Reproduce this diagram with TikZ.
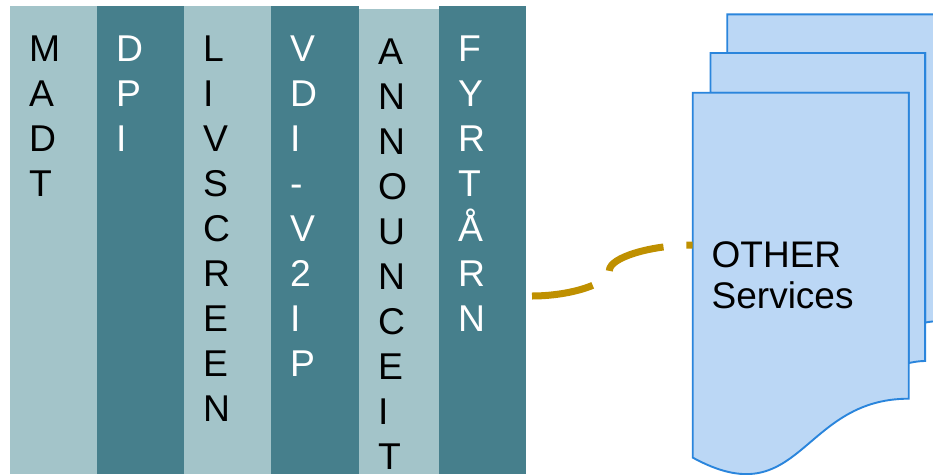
\documentclass[tikz,border=0pt]{standalone}
\usepackage{fontspec}
\setmainfont{Liberation Sans}
\definecolor{colLight}{HTML}{A3C4C9}
\definecolor{colDark}{HTML}{467F8C}
\definecolor{docFill}{HTML}{BBD7F5}
\definecolor{docLine}{HTML}{2A85DC}
\definecolor{linkGold}{HTML}{BF9000}
\begin{document}
\begin{tikzpicture}[x=1pt,y=-1pt,
  lightcol/.style={fill=colLight},
  darkcol/.style={fill=colDark},
  lettersBlack/.style={anchor=base west,inner sep=0pt,align=left,text=black,
    font=\fontsize{37.3}{45}\selectfont},
  lettersWhite/.style={lettersBlack,text=white},
  docshape/.style={fill=docFill,draw=docLine,line width=1.9pt,line join=miter},
  doctext/.style={anchor=base west,inner sep=0pt,align=left,text=black,
    font=\fontsize{37}{41}\selectfont},
  goldlink/.style={draw=linkGold,line width=7pt,dash pattern=on 62pt off 23pt}
]
\useasboundingbox (0,0) rectangle (933,474);
\fill[white] (0,0) rectangle (933,474);
% columns
\path[lightcol] (10,6) rectangle (97,474);
\path[darkcol]  (97,6) rectangle (184,474);
\path[lightcol] (184,6) rectangle (271,474);
\path[darkcol]  (271,6) rectangle (359,474);
\path[lightcol] (359,9) rectangle (439,474);
\path[darkcol]  (439,6) rectangle (526,474);
% column texts (base anchor = baseline of the last line)
\node[lettersBlack] (madt) at (29,196) {M\\A\\D\\T};
\node[lettersWhite] (dpi) at (116,151) {D\\P\\I};
\node[lettersBlack] (livscreen) at (203,421) {L\\I\\V\\S\\C\\R\\E\\E\\N};
\node[lettersWhite] (vdi) at (290,376) {V\\D\\I\\-\\V\\2\\I\\P};
\node[lettersBlack] (announceit) at (378,469.5) {A\\N\\N\\O\\U\\N\\C\\E\\I\\T};
\node[lettersWhite] (fyrtarn) at (458,331) {F\\Y\\R\\T\\Å\\R\\N};
% documents (back to front)
\path[docshape] (727.2,53) -- (727.2,14.3) -- (941.7,14.3) -- (941.7,321)
  .. controls (932.4,321) and (925.1,322.6) .. (925.1,322.6) -- (925.1,53) -- cycle;
\path[docshape] (710.5,92.7) -- (710.5,53) -- (925.1,53) -- (925.1,361)
  .. controls (916.9,361) and (908.7,363.1) .. (908.7,363.1) -- (908.7,92.7) -- cycle;
\path[docshape] (692.7,92.7) -- (908.7,92.7) -- (908.7,398.7)
  .. controls (800.7,398.7) and (800.7,516.5) .. (692.7,457.6) -- cycle;
\node[doctext] (other) at (711.5,308.3) {OTHER\\Services};
% connector
\coordinate (linkStart) at (532,296);
\coordinate (linkEnd) at (692.7,245);
\draw[goldlink] (linkStart) .. controls (570.7,296) and (609.4,283.5) .. (609.4,270.5)
  .. controls (609.4,257.5) and (651,245) .. (linkEnd);
\end{tikzpicture}
\end{document}
